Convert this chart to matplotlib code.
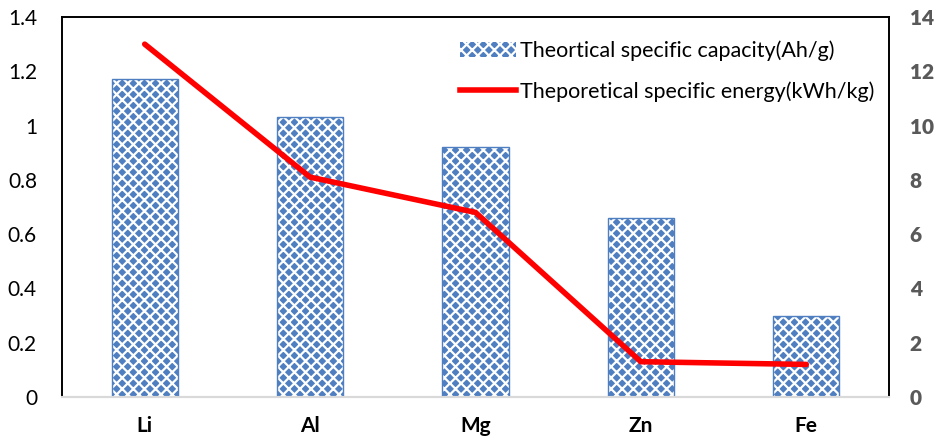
import numpy as np
import matplotlib.pyplot as plt
from matplotlib.patches import Patch
from matplotlib.lines import Line2D

metals = ["Li", "Al", "Mg", "Zn", "Fe"]
capacity = [1.17, 1.03, 0.92, 0.66, 0.30]   # Ah/g
energy = [13.0, 8.1, 6.8, 1.3, 1.2]          # kWh/kg
cap_ticks = ["0", "0.2", "0.4", "0.6", "0.8", "1", "1.2", "1.4"]
energy_ticks = [0, 2, 4, 6, 8, 10, 12, 14]

plt.rcParams["font.family"] = ["Lato", "DejaVu Sans"]
plt.rcParams["hatch.linewidth"] = 1.6

fig = plt.figure(figsize=(9.39, 4.43), dpi=100)
ax = fig.add_axes([62 / 939, 46 / 443, 827 / 939, 380 / 443])
ax2 = ax.twinx()

x = np.arange(len(metals))
bar_color = "#4F7FC0"
ax.bar(x, capacity, width=0.4, color=bar_color, edgecolor="white",
       hatch="xxx", linewidth=0, zorder=2)
ax.bar(x, capacity, width=0.4, fill=False, edgecolor=bar_color,
       linewidth=1.0, zorder=3)

ax2.plot(x, energy, color="#FF0000", linewidth=4, solid_capstyle="round",
         solid_joinstyle="miter", zorder=4)

ax.set_xlim(-0.5, len(metals) - 0.5)
ax.set_ylim(0, 1.4)
ax.set_yticks(np.arange(0, 1.41, 0.2))
ax.set_yticklabels(cap_ticks)
ax2.set_ylim(0, 14)
ax2.set_yticks(energy_ticks)
ax2.set_yticklabels([str(v) for v in energy_ticks])

ax.set_xticks(x)
ax.set_xticklabels(metals, fontsize=15, fontweight="bold")
ax.tick_params(axis="x", length=0, pad=14)
ax.tick_params(axis="y", length=0, labelsize=15, pad=18)
ax2.tick_params(axis="y", length=0, labelsize=15, pad=15,
                labelcolor="#595959")
for t in ax2.yaxis.get_major_ticks():
    t.label2.set_fontweight("heavy")

for a in (ax, ax2):
    for s in ("left", "right", "top"):
        a.spines[s].set_color("black")
        a.spines[s].set_linewidth(1.2)
    a.spines["bottom"].set_color("#D9D9D9")
    a.spines["bottom"].set_linewidth(1.5)

handles = [
    Patch(facecolor=bar_color, edgecolor="white", hatch="xxx", linewidth=0),
    Line2D([0], [0], color="#FF0000", linewidth=4),
]
labels = ["Theortical specific capacity(Ah/g)",
          "Theporetical specific energy(kWh/kg)"]
ax2.legend(handles, labels, loc="upper right", bbox_to_anchor=(1.006, 0.99),
           frameon=False, fontsize=15.5, handlelength=2.6, handletextpad=0.2,
           labelspacing=0.95)

fig.savefig("out.png", dpi=100)
